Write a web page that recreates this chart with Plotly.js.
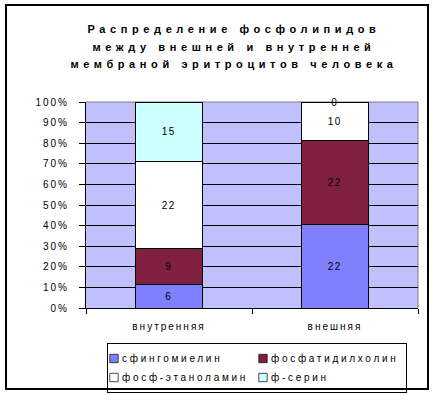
<!DOCTYPE html>
<html><head><meta charset="utf-8">
<script src="https://cdn.plot.ly/plotly-3.0.1.min.js"></script>
<style>
html,body{margin:0;padding:0;background:#fff;}
#wrap{position:relative;width:436px;height:394px;}
#chart{width:436px;height:394px;}
#frame{position:absolute;left:5px;top:4px;width:424px;height:386px;box-sizing:border-box;border:2px solid #000;pointer-events:none;}
#chart text.gtitle{letter-spacing:4.6px !important;}
#chart .xtick text,#chart .ytick text{letter-spacing:2px !important;}
#chart text.legendtext{letter-spacing:2.7px !important;transform:translate(-26px,0);}
#chart text.bartext{letter-spacing:1.5px !important;}
#chart text.bartext-outside{translate:0 9px;}
#chart .legendpoints path{transform:translate(6px,0) scale(0.7);}
</style></head>
<body><div id="wrap"><div id="chart"></div><div id="frame"></div></div>
<script>
const categories = ['внутренняя', 'внешняя'];
const seriesNames = ['сфингомиелин', 'фосфатидилхолин', 'фосф-этаноламин', 'ф-серин'];
const sphingomyelin = [6, 22];
const phosphatidylcholine = [9, 22];
const phosphEthanolamine = [22, 10];
const phosphSerine = [15, 0];
const yTickVals = [0, 10, 20, 30, 40, 50, 60, 70, 80, 90, 100];
const yTickLabels = ['0%', '10%', '20%', '30%', '40%', '50%', '60%', '70%', '80%', '90%', '100%'];
const titleLines = ['Распределение фосфолипидов', 'между внешней и внутренней', 'мембраной эритроцитов человека'];

const seriesValues = [sphingomyelin, phosphatidylcholine, phosphEthanolamine, phosphSerine];
const seriesColors = ['#8080FF', '#802040', '#FFFFFF', '#CCFFFF'];
const FONT = 'Liberation Sans, Arial, sans-serif';

const traces = seriesValues.map((vals, i) => ({
  type: 'bar',
  name: seriesNames[i],
  x: categories,
  y: vals,
  text: vals.map(String),
  textposition: vals.map(v => (v === 0 ? 'outside' : 'inside')),
  insidetextanchor: 'middle',
  textfont: {family: FONT, size: 10, color: '#000'},
  insidetextfont: {family: FONT, size: 10, color: '#000'},
  outsidetextfont: {family: FONT, size: 10, color: '#000'},
  constraintext: 'none',
  cliponaxis: false,
  marker: {color: seriesColors[i], line: {color: '#000', width: 1}},
  hoverinfo: 'skip'
}));

const layout = {
  width: 436, height: 394,
  margin: {l: 86, r: 18, t: 102, b: 86, pad: 0, autoexpand: false},
  paper_bgcolor: '#FFFFFF',
  plot_bgcolor: '#C0C0FF',
  barmode: 'stack',
  barnorm: 'percent',
  bargap: 0.6,
  font: {family: FONT, size: 10, color: '#000'},
  title: {
    text: titleLines.map(t => '<span style="font-size:11px">' + t + '</span>').join('<br>'),
    font: {family: FONT, size: 13.5, color: '#000', weight: 'bold'},
    x: 234 / 436, xanchor: 'center', xref: 'container',
    y: 1 - 33 / 394, yanchor: 'top', yref: 'container'
  },
  xaxis: {
    type: 'category',
    tickson: 'boundaries',
    ticks: 'outside', ticklen: 5, tickcolor: '#000', tickwidth: 1,
    showline: true, linecolor: '#000', linewidth: 1,
    showgrid: false,
    tickfont: {family: FONT, size: 10, color: '#000'},
    ticklabelstandoff: 9,
    fixedrange: true
  },
  yaxis: {
    range: [0, 100],
    tickvals: yTickVals, ticktext: yTickLabels,
    ticks: 'outside', ticklen: 6, tickcolor: '#000', tickwidth: 1,
    showline: true, linecolor: '#000', linewidth: 1,
    showgrid: true, gridcolor: '#000', gridwidth: 1,
    zeroline: false,
    tickfont: {family: FONT, size: 10, color: '#000'},
    ticklabelstandoff: 8,
    fixedrange: true
  },
  shapes: [
    {type: 'line', xref: 'paper', yref: 'paper', x0: 0, x1: 1, y0: 1, y1: 1, line: {color: '#808080', width: 1}, layer: 'between'},
    {type: 'line', xref: 'paper', yref: 'paper', x0: 1, x1: 1, y0: 0, y1: 1, line: {color: '#808080', width: 1}, layer: 'between'}
  ],
  showlegend: true,
  legend: {
    orientation: 'h',
    traceorder: 'normal',
    x: (107 - 86) / 332, xanchor: 'left', xref: 'paper',
    y: (308 - 343) / 206, yanchor: 'top', yref: 'paper',
    bgcolor: '#FFFFFF', bordercolor: '#000', borderwidth: 1,
    font: {family: FONT, size: 10, color: '#000'},
    entrywidth: 104, entrywidthmode: 'pixels',
    tracegroupgap: 0, itemclick: false, itemdoubleclick: false
  }
};

Plotly.newPlot('chart', traces, layout, {displayModeBar: false, staticPlot: true});
</script>
</body></html>
